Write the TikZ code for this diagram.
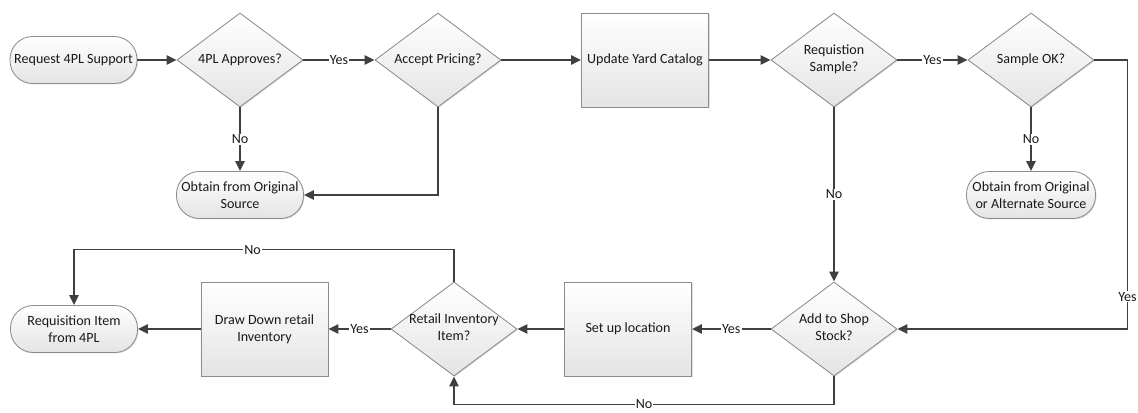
\documentclass[tikz,border=0pt]{standalone}
\usepackage{fontspec}
\setmainfont{Carlito}
\usetikzlibrary{arrows.meta,shapes.geometric,shadows}
\definecolor{linegray}{HTML}{404040}
\definecolor{edgegray}{HTML}{8C8C8C}
\definecolor{shadebot}{HTML}{E4E4E4}
\tikzset{
  base/.style={draw=edgegray, line width=0.6pt, top color=white, bottom color=shadebot,
    font=\fontsize{10}{12}\selectfont, text=black!90,
    drop shadow={shadow xshift=0.7pt, shadow yshift=-0.7pt, opacity=0.25}},
  terminal/.style={base, rectangle, rounded corners=0.57cm, minimum width=3.175cm,
    minimum height=1.175cm, inner sep=1pt, align=center},
  decision/.style={base, diamond, minimum width=3.15cm, minimum height=2.35cm, inner sep=0pt},
  process/.style={base, rectangle, minimum width=3.175cm, minimum height=2.35cm, align=center},
  flow/.style={-{Triangle[length=7pt, width=6.5pt]}, line width=1.1pt, draw=linegray},
  answer/.style={fill=white, inner sep=0.8pt, font=\fontsize{10}{12}\selectfont, text=black!90},
}
\newcommand{\qtext}[1]{\makebox[0pt]{\begin{tabular}{@{}c@{}}#1\end{tabular}}}

\begin{document}
\begin{tikzpicture}[x=0.025cm, y=-0.025cm]
  \useasboundingbox (0,0) rectangle (1138,413);

  % top row
  \node[terminal] (req4pl) at (73.5,60) {Request 4PL Support};
  \node[decision] (approve) at (240,60) {\qtext{4PL Approves?}};
  \node[decision] (pricing) at (438,60) {\qtext{Accept Pricing?}};
  \node[process] (catalog) at (645,60) {Update Yard Catalog};
  \node[decision] (reqsample) at (834,60) {\qtext{Requistion\\Sample?}};
  \node[decision] (sampleok) at (1031,60) {\qtext{Sample OK?}};

  % outside sources
  \node[terminal] (origsrc) at (240,195) {Obtain from Original\\Source};
  \node[terminal, minimum width=3.225cm] (altsrc) at (1031,195) {Obtain from Original\\or Alternate Source};

  % bottom row
  \node[decision] (shopstock) at (834,329) {\qtext{Add to Shop\\Stock?}};
  \node[process] (location) at (628,329) {Set up location};
  \node[decision] (retail) at (454,329) {\qtext{Retail Inventory\\Item?}};
  \node[process] (drawdown) at (264.5,329) {Draw Down retail\\Inventory};
  \node[terminal] (reqitem) at (74,329) {Requisition Item\\from 4PL};

  % connectors
  \draw[flow] (req4pl) -- (approve);
  \draw[flow] (approve) -- node[answer] {Yes} (pricing);
  \draw[flow] (approve) -- node[answer] {No} (origsrc);
  \draw[flow] (pricing.south) |- (origsrc.east);
  \draw[flow] (pricing) -- (catalog);
  \draw[flow] (catalog) -- (reqsample);
  \draw[flow] (reqsample) -- node[answer] {Yes} (sampleok);
  \draw[flow] (sampleok) -- node[answer] {No} (altsrc);
  \draw[flow] (reqsample) -- node[answer] {No} (shopstock);
  \draw[flow] (sampleok.east) -- ++(33,0) |- node[answer, pos=0.44] {Yes} (shopstock.east);
  \draw[flow] (shopstock) -- node[answer] {Yes} (location);
  \draw[flow] (shopstock.south) -- ++(0,28) -| node[answer, pos=0.25] {No} (retail.south);
  \draw[flow] (location) -- (retail);
  \draw[flow] (retail) -- node[answer] {Yes} (drawdown);
  \draw[flow] (drawdown) -- (reqitem);
  \draw[flow] (retail.north) -- ++(0,-32) -| node[answer, pos=0.265] {No} (reqitem.north);
\end{tikzpicture}
\end{document}
